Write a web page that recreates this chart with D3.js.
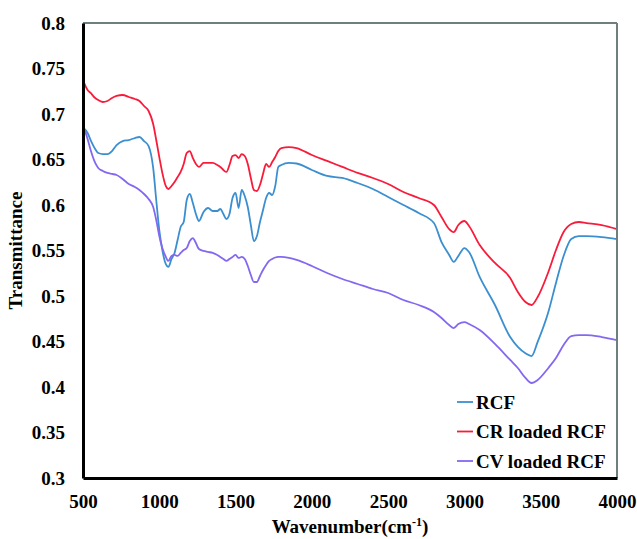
<!DOCTYPE html>
<html>
<head>
<meta charset="utf-8">
<script src="https://cdn.jsdelivr.net/npm/d3@7"></script>
<style>
  html, body { margin: 0; padding: 0; background: #fff; }
  svg { display: block; }
  text { font-family: "Liberation Serif", "Times New Roman", serif; font-weight: bold; fill: #000; }
</style>
</head>
<body>
<svg id="chart" width="637" height="539"></svg>
<script>
// FTIR spectra: wavenumber (cm-1) and transmittance for each sample
const wavenumber = [
  500, 510, 530, 550, 580, 600, 630, 660, 690, 720,
  760, 800, 840, 870, 900, 930, 960, 980, 1000, 1020,
  1040, 1060, 1080, 1100, 1120, 1140, 1160, 1180, 1200, 1220,
  1240, 1260, 1290, 1320, 1350, 1380, 1400, 1420, 1440, 1460,
  1480, 1500, 1520, 1540, 1560, 1580, 1600, 1620, 1640, 1660,
  1680, 1700, 1720, 1740, 1760, 1780, 1800, 1850, 1900, 2000,
  2100, 2200, 2300, 2400, 2500, 2600, 2700, 2800, 2850, 2900,
  2930, 2960, 3000, 3030, 3100, 3200, 3300, 3350, 3400, 3440,
  3480, 3550, 3600, 3650, 3700, 3750, 3800, 3900, 4000
];

const rcf = [
  0.6846, 0.6835, 0.6791, 0.6714, 0.6615, 0.6571, 0.6560, 0.6560, 0.6593, 0.6659,
  0.6703, 0.6714, 0.6736, 0.6747, 0.6703, 0.6648, 0.6407, 0.6055, 0.5725, 0.5505,
  0.5363, 0.5319, 0.5407, 0.5473, 0.5615, 0.5758, 0.5813, 0.6055, 0.6121, 0.6022,
  0.5901, 0.5824, 0.5923, 0.5967, 0.5934, 0.5934, 0.5956, 0.5901, 0.5846, 0.5901,
  0.6077, 0.6132, 0.5967, 0.6165, 0.6099, 0.5978, 0.5780, 0.5604, 0.5659, 0.5813,
  0.5945, 0.6077, 0.6132, 0.6110, 0.6209, 0.6418, 0.6440, 0.6462, 0.6456, 0.6385,
  0.6319, 0.6297, 0.6242, 0.6176, 0.6088, 0.6000, 0.5912, 0.5802, 0.5593, 0.5451,
  0.5374, 0.5440, 0.5527, 0.5484, 0.5209, 0.4901, 0.4549, 0.4440, 0.4370, 0.4340,
  0.4495, 0.4824, 0.5143, 0.5440, 0.5626, 0.5659, 0.5659, 0.5648, 0.5626
];

const crLoaded = [
  0.7374, 0.7330, 0.7264, 0.7231, 0.7176, 0.7154, 0.7132, 0.7143, 0.7176, 0.7198,
  0.7209, 0.7187, 0.7165, 0.7143, 0.7088, 0.7033, 0.6890, 0.6714, 0.6527, 0.6352,
  0.6220, 0.6176, 0.6209, 0.6253, 0.6308, 0.6363, 0.6451, 0.6571, 0.6593, 0.6516,
  0.6451, 0.6418, 0.6462, 0.6462, 0.6462, 0.6440, 0.6418, 0.6385, 0.6363, 0.6440,
  0.6538, 0.6549, 0.6516, 0.6560, 0.6538, 0.6451, 0.6297, 0.6165, 0.6154, 0.6220,
  0.6341, 0.6451, 0.6418, 0.6473, 0.6527, 0.6593, 0.6626, 0.6637, 0.6626, 0.6549,
  0.6484, 0.6418, 0.6352, 0.6297, 0.6231, 0.6143, 0.6077, 0.6000, 0.5868, 0.5736,
  0.5703, 0.5780, 0.5824, 0.5769, 0.5560, 0.5363, 0.5198, 0.5044, 0.4934, 0.4901,
  0.4989, 0.5264, 0.5505, 0.5703, 0.5791, 0.5813, 0.5802, 0.5780, 0.5736
];

const cvLoaded = [
  0.6846, 0.6824, 0.6725, 0.6604, 0.6462, 0.6407, 0.6374, 0.6352, 0.6341, 0.6330,
  0.6286, 0.6231, 0.6198, 0.6165, 0.6121, 0.6066, 0.5978, 0.5835, 0.5659, 0.5527,
  0.5440, 0.5385, 0.5440, 0.5451, 0.5440, 0.5473, 0.5505, 0.5527, 0.5604, 0.5637,
  0.5582, 0.5516, 0.5495, 0.5484, 0.5473, 0.5451, 0.5429, 0.5407, 0.5385, 0.5407,
  0.5429, 0.5451, 0.5418, 0.5429, 0.5407, 0.5330, 0.5231, 0.5154, 0.5154, 0.5220,
  0.5286, 0.5341, 0.5385, 0.5407, 0.5423, 0.5429, 0.5429, 0.5418, 0.5396, 0.5330,
  0.5253, 0.5187, 0.5132, 0.5077, 0.5033, 0.4956, 0.4901, 0.4824, 0.4758, 0.4681,
  0.4648, 0.4692, 0.4714, 0.4692, 0.4626, 0.4473, 0.4297, 0.4209, 0.4099, 0.4044,
  0.4077, 0.4209, 0.4319, 0.4462, 0.4560, 0.4571, 0.4571, 0.4549, 0.4516
];

const seriesNames = ["RCF", "CR loaded RCF", "CV loaded RCF"];
const seriesColors = ["#3b8fd0", "#f81c3a", "#8468f0"];
const xTicks = [500, 1000, 1500, 2000, 2500, 3000, 3500, 4000];
const yTicks = [0.3, 0.35, 0.4, 0.45, 0.5, 0.55, 0.6, 0.65, 0.7, 0.75, 0.8];

const series = [rcf, crLoaded, cvLoaded].map((vals, i) => ({
  name: seriesNames[i],
  color: seriesColors[i],
  points: wavenumber.map((w, j) => [w, vals[j]])
}));

const svg = d3.select("#chart");
const margin = { left: 83, right: 20, top: 23, bottom: 61 };
const W = 637, H = 539;

const x = d3.scaleLinear().domain([500, 4000]).range([margin.left, W - margin.right]);
const y = d3.scaleLinear().domain([0.3, 0.8]).range([H - margin.bottom, margin.top]);

svg.append("rect").attr("width", W).attr("height", H).attr("fill", "#fff");

// Spectra
const line = d3.line().x(d => x(d[0])).y(d => y(d[1])).curve(d3.curveMonotoneX);
svg.append("g").selectAll("path")
  .data(series)
  .join("path")
  .attr("d", d => line(d.points))
  .attr("fill", "none")
  .attr("stroke", d => d.color)
  .attr("stroke-width", 1.8)
  .attr("stroke-linejoin", "round");

// Frame: grey top/right, black axes left/bottom
svg.append("line")
  .attr("x1", x(500)).attr("x2", x(4000)).attr("y1", y(0.8)).attr("y2", y(0.8))
  .attr("stroke", "#6f7f7f").attr("stroke-width", 2);
svg.append("line")
  .attr("x1", x(4000)).attr("x2", x(4000)).attr("y1", y(0.8)).attr("y2", y(0.3))
  .attr("stroke", "#6f7f7f").attr("stroke-width", 2);

const xAxis = svg.append("g")
  .attr("transform", `translate(0,${y(0.3)})`)
  .call(d3.axisBottom(x).tickValues(xTicks).tickSize(0).tickPadding(17).tickFormat(d3.format("d")));
xAxis.select(".domain").attr("stroke", "#000").attr("stroke-width", 3);
xAxis.selectAll("text").attr("font-size", 19).attr("fill", "#000")
  .style("font-family", '"Liberation Serif", serif').style("font-weight", "bold");

const yAxis = svg.append("g")
  .attr("transform", `translate(${x(500)},0)`)
  .call(d3.axisLeft(y).tickValues(yTicks).tickSize(0).tickPadding(18).tickFormat(d => d3.format("")(+d.toFixed(2))));
yAxis.select(".domain").attr("stroke", "#000").attr("stroke-width", 3);
yAxis.selectAll("text").attr("font-size", 19).attr("fill", "#000")
  .style("font-family", '"Liberation Serif", serif').style("font-weight", "bold");

// Axis titles
const xTitle = svg.append("text")
  .attr("x", (x(500) + x(4000)) / 2)
  .attr("y", 533)
  .attr("text-anchor", "middle")
  .attr("font-size", 19);
xTitle.append("tspan").text("Wavenumber(cm");
xTitle.append("tspan").attr("baseline-shift", "super").attr("font-size", 12).text("-1");
xTitle.append("tspan").text(")");

svg.append("text")
  .attr("transform", `translate(22,${(y(0.3) + y(0.8)) / 2}) rotate(-90)`)
  .attr("text-anchor", "middle")
  .attr("font-size", 19)
  .text("Transmittance");

// Legend
const legend = svg.append("g").attr("transform", "translate(457,402)");
const item = legend.selectAll("g").data(series).join("g")
  .attr("transform", (d, i) => `translate(0,${i * 29.5})`);
item.append("line")
  .attr("x1", 0).attr("x2", 16).attr("y1", 0).attr("y2", 0)
  .attr("stroke", d => d.color).attr("stroke-width", 1.8);
item.append("text")
  .attr("x", 19).attr("y", 0).attr("dy", "0.35em")
  .attr("font-size", 19)
  .text(d => d.name);
</script>
</body>
</html>
